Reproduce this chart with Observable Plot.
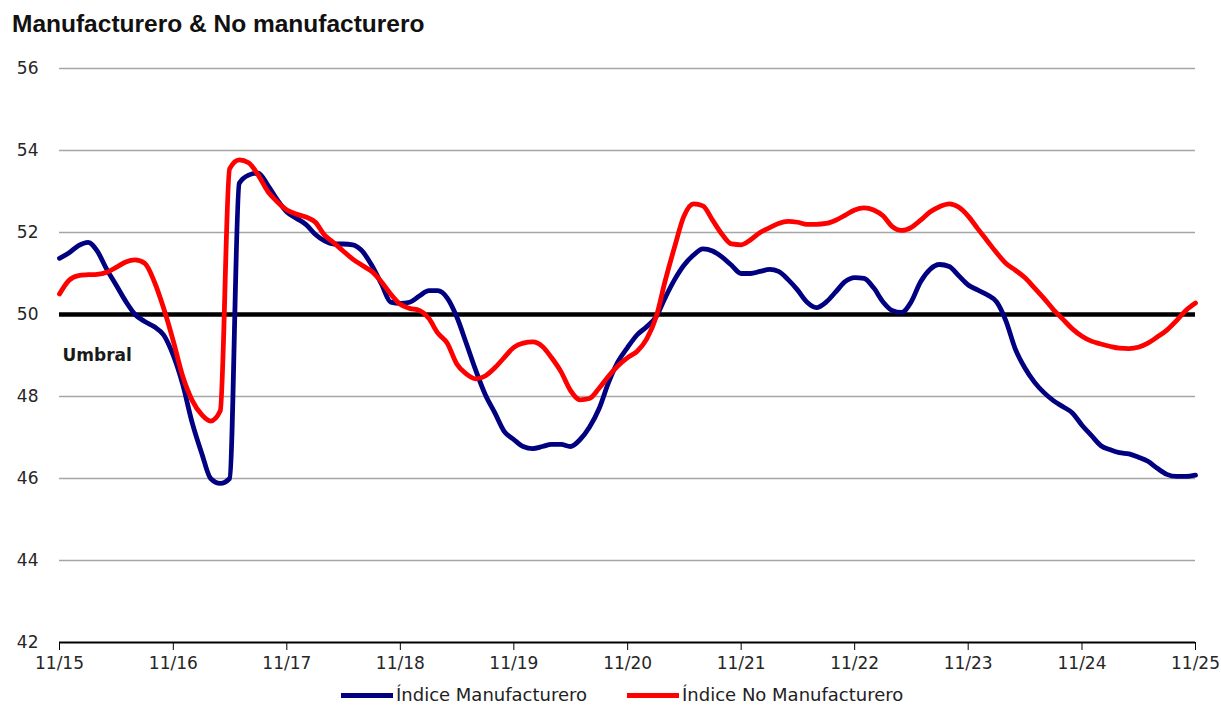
<!DOCTYPE html>
<html><head><meta charset="utf-8">
<script src="https://cdn.jsdelivr.net/npm/d3@7"></script>
<script src="https://cdn.jsdelivr.net/npm/@observablehq/plot@0.6"></script>
<style>
body{margin:0;background:#fff;width:1221px;height:705px;position:relative;overflow:hidden;font-family:"DejaVu Sans",sans-serif}
#title{position:absolute;left:12px;top:12px;font:bold 24.5px/1 "Liberation Sans",Arial,sans-serif;color:#111;white-space:nowrap}
#chart{position:absolute;left:0;top:48px}
#legend{position:absolute;left:341px;top:684px;height:22px;display:flex;align-items:center;font:18px/22px "DejaVu Sans",sans-serif;color:#222;white-space:nowrap}
.item{display:flex;align-items:center}
.sw{width:52px;height:5px;margin-right:3px}
</style></head><body>
<div id="title">Manufacturero &amp; No manufacturero</div>
<div id="chart"></div>
<div id="legend"></div>
<script>
const seriesNames = ["Índice Manufacturero", "Índice No Manufacturero"];
const seriesColors = ["#000080", "#ff0000"];
const xTickLabels = ["11/15","11/16","11/17","11/18","11/19","11/20","11/21","11/22","11/23","11/24","11/25"];
const yTicks = [42,44,46,48,50,52,54,56];
const umbral = 50;

const manufacturero = [
 51.37,51.5,51.68,51.76,51.55,51.1,50.72,50.32,50.0,49.83,
 49.7,49.5,49.0,48.3,47.35,46.6,46.0,45.88,46.0,53.2,
 53.4,53.45,53.15,52.8,52.5,52.35,52.2,51.95,51.8,51.72,
 51.72,51.7,51.55,51.2,50.75,50.3,50.27,50.3,50.45,50.58,
 50.58,50.4,49.95,49.3,48.65,48.05,47.6,47.15,46.95,46.78,
 46.73,46.78,46.83,46.83,46.78,46.95,47.25,47.7,48.35,48.85,
 49.2,49.5,49.7,49.95,50.4,50.85,51.2,51.45,51.6,51.55,
 51.4,51.2,51.0,51.0,51.05,51.1,51.05,50.85,50.6,50.3,
 50.17,50.3,50.55,50.8,50.9,50.88,50.65,50.3,50.1,50.05,
 50.3,50.8,51.1,51.22,51.17,50.95,50.72,50.6,50.48,50.3,
 49.85,49.15,48.7,48.35,48.1,47.9,47.75,47.6,47.3,47.05,
 46.8,46.7,46.63,46.6,46.52,46.42,46.25,46.1,46.05,46.05,
 46.08
];
const noManufacturero = [
 50.5,50.83,50.95,50.97,50.98,51.03,51.15,51.28,51.33,51.25,
 50.8,50.15,49.35,48.5,47.9,47.55,47.4,47.65,53.55,53.77,
 53.7,53.4,53.0,52.75,52.55,52.45,52.38,52.25,51.95,51.75,
 51.55,51.35,51.2,51.05,50.8,50.5,50.25,50.15,50.1,49.9,
 49.55,49.3,48.8,48.55,48.43,48.5,48.7,48.95,49.2,49.3,
 49.33,49.22,48.95,48.6,48.15,47.92,47.95,48.2,48.5,48.75,
 48.95,49.1,49.4,49.95,50.8,51.65,52.4,52.7,52.65,52.3,
 51.95,51.72,51.7,51.82,52.0,52.12,52.22,52.27,52.25,52.2,
 52.2,52.22,52.3,52.42,52.55,52.6,52.55,52.4,52.15,52.05,
 52.12,52.3,52.5,52.63,52.7,52.62,52.4,52.1,51.8,51.5,
 51.25,51.08,50.9,50.65,50.4,50.12,49.88,49.65,49.47,49.35,
 49.28,49.22,49.18,49.17,49.2,49.3,49.45,49.62,49.85,50.1,
 50.28
];

const start = new Date(Date.UTC(2015, 10, 1));
const months = manufacturero.map((_, i) => d3.utcMonth.offset(start, i));
const end = months[months.length - 1];
const xTickDates = xTickLabels.map((_, i) => d3.utcYear.offset(start, i));
const rowsM = manufacturero.map((v, i) => ({date: months[i], value: v}));
const rowsN = noManufacturero.map((v, i) => ({date: months[i], value: v}));

const chart = Plot.plot({
  width: 1221, height: 632,
  marginTop: 20, marginBottom: 38, marginLeft: 59, marginRight: 26,
  x: {type: "utc", domain: [start, end], label: null},
  y: {domain: [42, 56], label: null},
  style: {fontFamily: "DejaVu Sans, sans-serif", fontSize: "17px", color: "#262626", background: "white", overflow: "visible"},
  marks: [
    Plot.ruleY(yTicks.filter(d => d !== 42 && d !== umbral), {stroke: "#a6a6a6", strokeWidth: 1.5}),
    Plot.ruleY([42], {stroke: "#000", strokeWidth: 2}),
    Plot.axisY({ticks: yTicks, tickSize: 0, tickPadding: 21, fontSize: 17, fill: "#262626", label: null, tickFormat: d => String(d)}),
    Plot.axisX({ticks: xTickDates, tickFormat: (d, i) => xTickLabels[i], tickSize: 8, tickPadding: 6, stroke: "#000", fill: "#262626", fontSize: 17, label: null}),
    Plot.ruleY([umbral], {stroke: "#000", strokeWidth: 4.5}),
    Plot.line(rowsM, {x: "date", y: "value", stroke: seriesColors[0], strokeWidth: 4.8, curve: "monotone-x"}),
    Plot.line(rowsN, {x: "date", y: "value", stroke: seriesColors[1], strokeWidth: 4.8, curve: "monotone-x"}),
    Plot.text(["Umbral"], {x: () => start, y: () => umbral, dy: 41, dx: 3, textAnchor: "start", fontWeight: "bold", fontSize: 17, fill: "#1a1a1a"})
  ]
});
document.getElementById("chart").appendChild(chart);

const legend = document.getElementById("legend");
seriesNames.forEach((name, i) => {
  const item = document.createElement("div");
  item.className = "item";
  if (i > 0) item.style.marginLeft = "40px";
  const sw = document.createElement("div");
  sw.className = "sw";
  sw.style.background = seriesColors[i];
  const t = document.createElement("span");
  t.textContent = name;
  item.appendChild(sw); item.appendChild(t);
  legend.appendChild(item);
});
</script>
</body></html>
